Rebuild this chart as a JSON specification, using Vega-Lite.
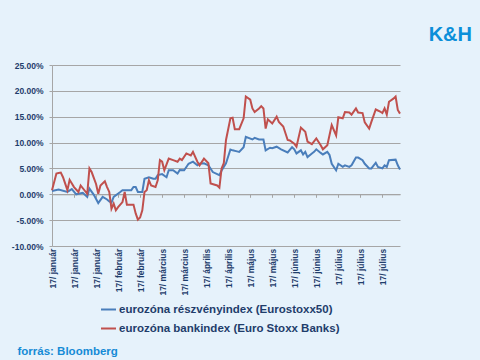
{
  "$schema": "https://vega.github.io/schema/vega-lite/v6.json",
  "width": 348,
  "height": 181,
  "autosize": {"type": "none"},
  "padding": {"left": 52, "top": 65, "right": 80, "bottom": 114},
  "background": "#e6f2fb",
  "title": {"text": "K&H", "anchor": "end", "dx": 68, "offset": 16, "fontSize": 20, "font": "Liberation Sans", "fontWeight": "bold", "color": "#0b8fd9"},
  "config": {
    "view": {"stroke": null},
    "axis": {"labelFont": "Liberation Sans", "labelFontWeight": "bold", "labelColor": "#1f3d6b", "gridColor": "#a6a6a6", "domainColor": "#a6a6a6", "tickColor": "#a6a6a6"}
  },
  "encoding": {
    "x": {"field": "i", "type": "quantitative", "scale": {"domain": [0, 158], "nice": false, "zero": false},
      "axis": {"values": [0,10,20,30,40,50,60,70,80,90,100,110,120,130,140,150], "grid": false, "offset": -51.7, "tickSize": 3, "labelPadding": 51, "labelAngle": -90, "labelFontSize": 8.5, "labelFlush": false,
        "labelExpr": "'17/ ' + ['január','január','január','február','február','március','március','április','április','május','május','június','június','július','július','július'][round(datum.value/10)]",
        "title": "forrás: Bloomberg", "titleX": -35, "titleY": 160, "titleAlign": "left", "titleAnchor": "start", "titleBaseline": "alphabetic", "titleFont": "Liberation Sans", "titleFontSize": 11.5, "titleFontWeight": "bold", "titleColor": "#168bd6"}},
    "y": {"field": "v", "type": "quantitative", "scale": {"domain": [-10, 25], "nice": false},
      "axis": {"values": [-10,-5,0,5,10,15,20,25], "tickSize": 3, "labelFontSize": 8.5, "labelPadding": 6, "title": null, "labelExpr": "replace(format(datum.value,'.2f'),'−','-') + '%'"}},
    "color": {"type": "nominal", "scale": {"domain": ["eurozóna részvényindex (Eurostoxx50)", "eurozóna bankindex (Euro Stoxx Banks)"], "range": ["#4a7ebb", "#c0504d"]},
      "legend": {"title": null, "orient": "none", "legendX": 48, "legendY": 236, "direction": "vertical", "symbolType": "stroke", "symbolSize": 225, "symbolStrokeWidth": 2, "labelFont": "Liberation Sans", "labelFontSize": 11.5, "labelFontWeight": "bold", "labelColor": "#1f3d6b", "labelLimit": 0, "rowPadding": 5, "labelOffset": 2}}
  },
  "layer": [
    {
      "data": {"values": [
        {"i":0,"v":0.64},{"i":3,"v":0.9},{"i":7,"v":0.45},{"i":9,"v":1.0},{"i":11,"v":0.0},{"i":14,"v":0.3},{"i":16,"v":-0.5},{"i":17,"v":1.1},{"i":19,"v":-0.1},{"i":21,"v":-1.7},{"i":23,"v":-0.5},{"i":25,"v":-1.0},{"i":26,"v":-1.4},{"i":27,"v":-1.6},{"i":28,"v":-0.5},{"i":31,"v":0.45},{"i":32,"v":0.8},{"i":36,"v":0.8},{"i":37,"v":1.4},{"i":38,"v":1.4},{"i":39,"v":0.45},{"i":41,"v":0.45},{"i":42,"v":3.0},{"i":44,"v":3.3},{"i":46,"v":3.0},{"i":47,"v":3.0},{"i":48,"v":3.7},{"i":50,"v":3.9},{"i":52,"v":3.3},{"i":53,"v":4.65},{"i":55,"v":4.65},{"i":57,"v":4.0},{"i":58,"v":4.7},{"i":60,"v":4.65},{"i":62,"v":5.9},{"i":64,"v":6.3},{"i":66,"v":5.6},{"i":67,"v":5.9},{"i":69,"v":6.0},{"i":71,"v":5.6},{"i":73,"v":4.3},{"i":76,"v":3.7},{"i":77,"v":4.6},{"i":79,"v":6.0},{"i":81,"v":8.65},{"i":82,"v":8.5},{"i":84,"v":8.3},{"i":85,"v":8.2},{"i":87,"v":9.1},{"i":88,"v":11.1},{"i":91,"v":10.6},{"i":92,"v":10.9},{"i":94,"v":10.6},{"i":96,"v":10.6},{"i":97,"v":8.5},{"i":99,"v":9.0},{"i":100,"v":8.9},{"i":102,"v":9.2},{"i":104,"v":8.7},{"i":107,"v":8.1},{"i":109,"v":9.1},{"i":110,"v":8.7},{"i":111,"v":7.9},{"i":113,"v":8.5},{"i":114,"v":7.7},{"i":115,"v":8.2},{"i":116,"v":7.2},{"i":118,"v":7.9},{"i":119,"v":8.2},{"i":120,"v":8.7},{"i":122,"v":8.0},{"i":123,"v":7.7},{"i":125,"v":8.2},{"i":126,"v":7.6},{"i":127,"v":5.9},{"i":129,"v":4.65},{"i":130,"v":5.9},{"i":132,"v":5.3},{"i":133,"v":5.6},{"i":135,"v":5.3},{"i":136,"v":5.6},{"i":138,"v":7.1},{"i":139,"v":7.1},{"i":141,"v":6.6},{"i":142,"v":5.9},{"i":144,"v":5.0},{"i":145,"v":5.0},{"i":147,"v":6.1},{"i":148,"v":5.3},{"i":150,"v":5.0},{"i":151,"v":5.6},{"i":152,"v":5.3},{"i":153,"v":6.6},{"i":156,"v":6.7},{"i":157,"v":5.6},{"i":158,"v":4.8}
      ]},
      "mark": {"type": "line", "strokeWidth": 2},
      "encoding": {"color": {"datum": "eurozóna részvényindex (Eurostoxx50)"}}
    },
    {
      "data": {"values": [
        {"i":0,"v":0.8},{"i":2,"v":4.0},{"i":3,"v":4.1},{"i":4,"v":4.2},{"i":5,"v":3.3},{"i":7,"v":0.8},{"i":8,"v":2.8},{"i":10,"v":1.4},{"i":12,"v":0.45},{"i":13,"v":1.7},{"i":16,"v":0.1},{"i":17,"v":5.0},{"i":18,"v":4.3},{"i":20,"v":2.0},{"i":21,"v":0.1},{"i":22,"v":1.7},{"i":24,"v":2.5},{"i":25,"v":1.4},{"i":26,"v":0.45},{"i":27,"v":-2.8},{"i":28,"v":-1.8},{"i":29,"v":-3.1},{"i":30,"v":-2.5},{"i":32,"v":-1.5},{"i":33,"v":0.45},{"i":34,"v":-2.0},{"i":37,"v":-2.0},{"i":38,"v":-3.7},{"i":39,"v":-4.9},{"i":40,"v":-4.5},{"i":41,"v":-3.1},{"i":42,"v":0.45},{"i":43,"v":0.8},{"i":44,"v":2.7},{"i":45,"v":1.7},{"i":47,"v":1.4},{"i":48,"v":2.7},{"i":49,"v":6.6},{"i":50,"v":6.3},{"i":51,"v":4.65},{"i":53,"v":6.9},{"i":55,"v":6.6},{"i":57,"v":6.3},{"i":58,"v":6.9},{"i":59,"v":6.6},{"i":61,"v":7.9},{"i":63,"v":7.5},{"i":64,"v":8.2},{"i":66,"v":6.3},{"i":67,"v":5.6},{"i":69,"v":6.9},{"i":71,"v":6.0},{"i":72,"v":2.1},{"i":75,"v":1.7},{"i":76,"v":1.3},{"i":77,"v":5.0},{"i":78,"v":6.0},{"i":79,"v":10.5},{"i":81,"v":14.7},{"i":82,"v":14.8},{"i":83,"v":12.6},{"i":85,"v":12.6},{"i":87,"v":14.7},{"i":88,"v":18.9},{"i":90,"v":18.3},{"i":91,"v":16.6},{"i":92,"v":15.9},{"i":94,"v":16.6},{"i":95,"v":17.05},{"i":96,"v":16.6},{"i":97,"v":12.7},{"i":98,"v":14.5},{"i":100,"v":13.7},{"i":102,"v":15.0},{"i":103,"v":14.0},{"i":105,"v":13.1},{"i":107,"v":10.5},{"i":108,"v":10.4},{"i":110,"v":9.8},{"i":111,"v":9.2},{"i":113,"v":12.9},{"i":115,"v":12.1},{"i":116,"v":10.2},{"i":118,"v":9.7},{"i":120,"v":10.8},{"i":122,"v":9.5},{"i":123,"v":8.7},{"i":125,"v":9.5},{"i":127,"v":13.4},{"i":129,"v":11.4},{"i":130,"v":14.9},{"i":132,"v":14.7},{"i":133,"v":15.9},{"i":135,"v":15.8},{"i":136,"v":15.4},{"i":138,"v":16.6},{"i":139,"v":15.8},{"i":141,"v":15.7},{"i":142,"v":13.9},{"i":144,"v":12.7},{"i":145,"v":14.0},{"i":147,"v":16.4},{"i":149,"v":16.0},{"i":150,"v":15.7},{"i":151,"v":16.6},{"i":152,"v":15.4},{"i":153,"v":17.9},{"i":155,"v":18.5},{"i":156,"v":18.9},{"i":157,"v":16.3},{"i":158,"v":15.6}
      ]},
      "mark": {"type": "line", "strokeWidth": 2},
      "encoding": {"color": {"datum": "eurozóna bankindex (Euro Stoxx Banks)"}}
    }
  ]
}
